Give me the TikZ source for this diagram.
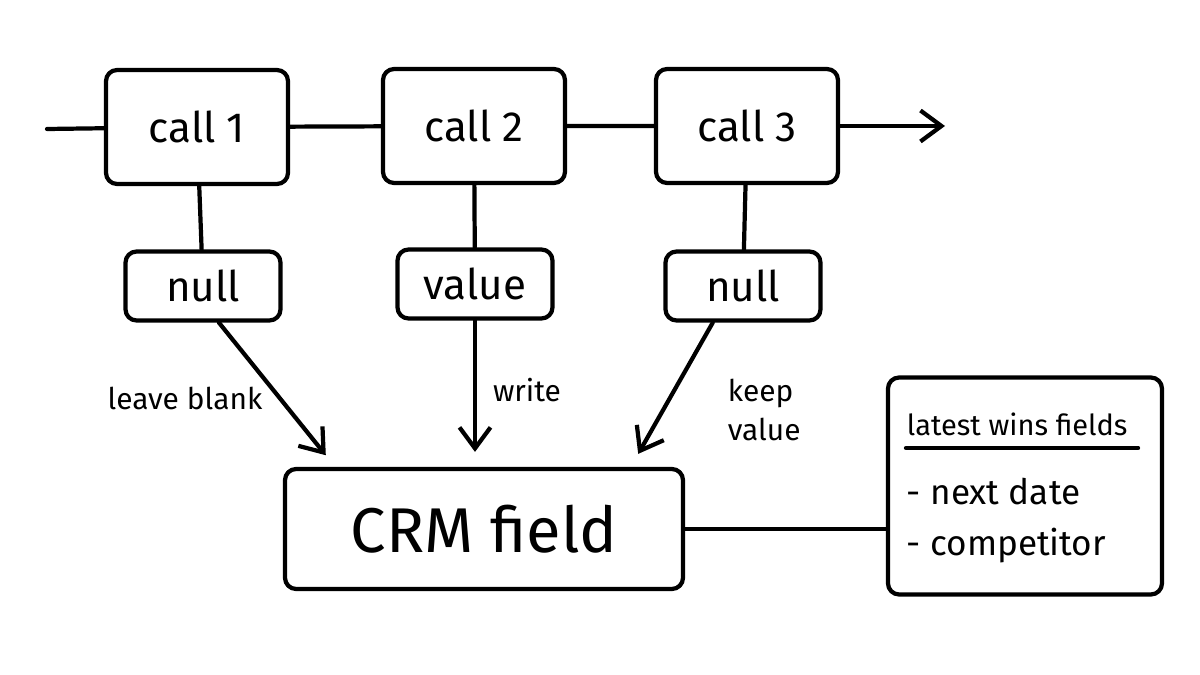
\documentclass[tikz,border=0pt]{standalone}
\usepackage{fontspec}
\setmainfont{Fira Sans}
\usetikzlibrary{arrows.meta,calc}

\begin{document}
\begin{tikzpicture}[x=0.02cm, y=-0.02cm, line width=2.4pt, line cap=round, line join=round,
    box/.style = {draw, rounded corners=0.22cm, inner sep=0pt},
    callbox/.style = {box, minimum width=3.64cm, minimum height=2.28cm, font=\fontsize{24}{28}\selectfont},
    valbox/.style = {box, minimum width=3.1cm, minimum height=1.38cm, font=\fontsize{24}{28}\selectfont},
    lbl/.style = {font=\fontsize{17}{19}\selectfont, align=left},
    arr/.style = {-{Straight Barb[length=0.42cm, width=0.62cm]}, shorten >=0.3cm}]
  \fill[white] (0,0) rectangle (1200,675);
  \useasboundingbox (0,0) rectangle (1200,675);

  \node[callbox] (c1) at (197, 127) {call 1} % first call
  node[callbox] (c2) at (474, 126) {call 2} % second call
  node[callbox] (c3) at (747, 126) {call 3}; % third call
  \node[valbox] (n1) at (203, 286) {null} % left answer
  node[valbox] (v2) at (475, 284) {value} % middle answer
  node[valbox] (n3) at (743, 286) {null}; % right answer
  \node[box, minimum width=7.96cm, minimum height=2.4cm, font=\fontsize{36}{40}\selectfont] (crm) at (484, 529) {CRM field};
  \node[box, minimum width=5.48cm, minimum height=4.34cm] (rule) at (1025, 486) {};
  \coordinate (in) at (47, 129);
  \coordinate (out) at (945, 126);

  % timeline
  \draw (in) -- (c1) -- (c2) -- (c3);
  \draw[-{Straight Barb[length=0.42cm, width=0.62cm]}] (c3) -- (out);
  \draw (c1) -- (n1);
  \draw (c2) -- (v2);
  \draw (c3) -- (n3);

  % what each answer does to the field
  \draw[arr] ($(n1.south west)!0.6!(n1.south east)$) -- ($(crm.north west)!0.13!(crm.north east)$);
  \draw[arr] (v2.south) -- (v2.south |- crm.north);
  \draw[arr] ($(n3.south west)!0.31!(n3.south east)$) -- ($(crm.north west)!0.865!(crm.north east)$);
  \node[lbl] (t1) at (185, 398) {leave blank};
  \node[lbl] (t2) at (527, 390) {write};
  \node[lbl, anchor=west, align=left, font=\fontsize{17}{22}\selectfont] (t3) at (720, 410) {keep\\value};

  % field list
  \draw (crm.east) -- (crm.east -| rule.west);
  \node[lbl, anchor=west, font=\fontsize{16.5}{19}\selectfont] (head) at (899, 424) {latest wins fields};
  \draw ($(rule.west)+(20,-38)$) -- ($(rule.east)+(-26,-38)$);
  \node[lbl, anchor=west, font=\fontsize{20}{24}\selectfont] (f1) at (899, 492) {- next date};
  \node[lbl, anchor=west, font=\fontsize{20}{24}\selectfont] (f2) at (899, 546) {- competitor};
\end{tikzpicture}
\end{document}
